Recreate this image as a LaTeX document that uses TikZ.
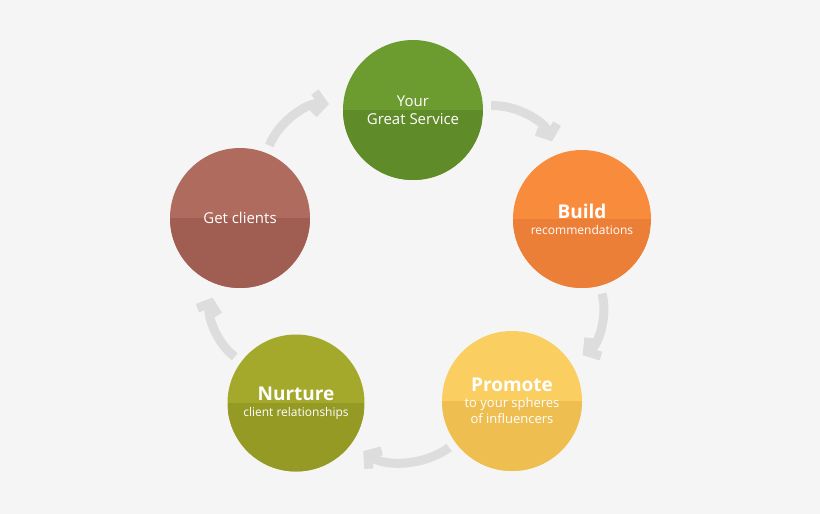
\documentclass[tikz,border=0pt]{standalone}
\usepackage{fontspec}
\setmainfont{Open Sans}
\usetikzlibrary{arrows.meta}
\definecolor{bgc}{HTML}{F5F5F5}
\definecolor{arrc}{HTML}{DDDDDD}
\definecolor{gTop}{HTML}{6C9C2F}\definecolor{gBot}{HTML}{5F8B29}
\definecolor{oTop}{HTML}{F98B3D}\definecolor{oBot}{HTML}{EB7F37}
\definecolor{yTop}{HTML}{FACE60}\definecolor{yBot}{HTML}{EEBE50}
\definecolor{nTop}{HTML}{A4A82B}\definecolor{nBot}{HTML}{959A24}
\definecolor{rTop}{HTML}{B06B5F}\definecolor{rBot}{HTML}{A05D52}
\begin{document}
\begin{tikzpicture}[x=1pt,y=-1pt,
  stage/.style 2 args={circle,minimum size=140pt,inner sep=0pt,fill=#1,text=white,align=center,
    path picture={\fill[#2] (path picture bounding box.west) rectangle (path picture bounding box.south east);}},
  loop arrow/.style={draw=arrc,line width=9pt,-{Straight Barb[length=9pt,width=22pt,line width=9pt]},shorten <=8pt,shorten >=14pt}]
\fill[bgc] (0,0) rectangle (820,514);
\useasboundingbox (0,0) rectangle (820,514);
\begin{scope}[font=\fontsize{15}{18}\selectfont]
\node[stage={gTop}{gBot}] (service) at (413,110) {Your\\Great Service};
\node[stage={oTop}{oBot},minimum size=138pt] (build) at (582,219) {{\fontsize{19}{22}\selectfont\bfseries Build}\\[-2pt]{\fontsize{12}{14}\selectfont recommendations}};
\node[stage={yTop}{yBot}] (promote) at (512,401) {{\fontsize{19}{22}\selectfont\bfseries Promote}\\[-2pt]{\fontsize{13}{16}\selectfont to your spheres}\\[-2pt]{\fontsize{13}{16}\selectfont of influencers}};
\node[stage={nTop}{nBot},minimum size=137pt] (nurture) at (296,403) {{\fontsize{19}{22}\selectfont\bfseries Nurture}\\[-2pt]{\fontsize{12}{14}\selectfont client relationships}};
\node[stage={rTop}{rBot}] (clients) at (240,218) {Get clients};
\end{scope}
\begin{scope}[on background layer/.style={}]
\path[loop arrow] (service) to[bend left=36] (build);
\path[loop arrow] (build) to[bend left=36] (promote);
\path[loop arrow] (promote) to[bend left=36] (nurture);
\path[loop arrow] (nurture) to[bend left=36] (clients);
\path[loop arrow] (clients) to[bend left=36] (service);
\end{scope}
\end{tikzpicture}
\end{document}
